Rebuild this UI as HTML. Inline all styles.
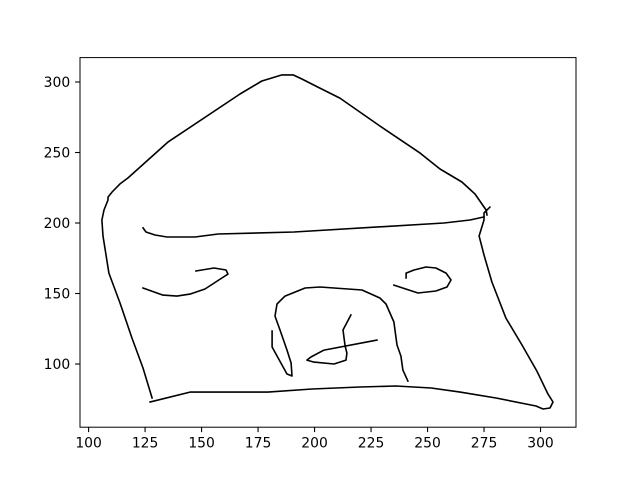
<!DOCTYPE html>
<html><head><meta charset="utf-8">
<style>
html,body{margin:0;padding:0;background:#fff;}
svg{display:block;font-family:"DejaVu Sans","Liberation Sans",sans-serif;}
</style></head>
<body>
<svg id="chart" width="640" height="480" viewBox="0 0 640 480" xmlns="http://www.w3.org/2000/svg">
<rect x="0" y="0" width="640" height="480" fill="#fff"/>
<g id="marks"></g>
<rect x="80" y="57.6" width="496" height="369.6" fill="none" stroke="#000" stroke-width="1"/>
<g id="xaxis"></g>
<g id="yaxis"></g>
</svg>
<script>
const xTicks = [100,125,150,175,200,225,250,275,300];
const yTicks = [100,150,200,250,300];
const outlineX = [128.1,124.1,119.2,113.9,109.0,106.4,105.9,106.8,108.6,108.6,110.4,113.9,117.4,135.1,167.0,176.7,185.6,190.5,194.4,201.5,211.2,228.9,246.7,255.5,265.2,271.0,275.9,276.3];
const outlineY = [75.9,97.2,118.4,143.3,164.5,190.8,202.1,209.2,216.3,218.4,222.0,227.7,231.9,257.4,291.5,300.7,305.0,305.0,302.1,296.4,288.6,268.8,249.6,238.3,229.1,220.6,209.2,205.7];
const jawX = [277.6,275.0,275.0,272.8,275.0,278.5,284.7,291.8,298.4,303.3,305.5,304.2,301.1,298.0,280.3,264.4,251.6,236.0,220.1,198.9,179.4,144.9,127.2];
const jawY = [211.3,207.1,202.1,190.8,177.3,158.2,132.6,113.5,95.0,78.7,73.1,68.8,68.1,70.2,75.9,80.1,83.0,84.4,83.7,82.3,80.1,80.1,73.1];
const bandX = [124.1,125.4,129.4,134.7,147.1,157.3,190.9,257.3,268.8,275.0];
const bandY = [196.5,193.6,191.5,190.1,190.1,192.2,193.6,200.0,202.1,204.3];
const leftEyeX = [124.1,132.9,139.1,144.9,151.5,159.0,161.7,160.8,155.5,147.5];
const leftEyeY = [153.9,148.9,148.2,149.6,153.2,161.0,163.8,166.7,168.1,166.0];
const rightEyeX = [240.5,240.5,244.0,249.3,253.7,258.2,260.4,258.6,253.7,245.8,235.1];
const rightEyeY = [161.0,164.5,166.7,168.8,168.1,164.5,159.6,154.6,151.8,150.4,156.0];
const noseX = [181.2,181.2,185.1,187.8,190.0,189.6,187.8,184.7,182.5,183.4,186.9,195.8,202.4,221.0,228.9,231.6,235.1,236.5,238.2,239.1,241.3];
const noseY = [123.4,112.1,100.7,92.9,91.5,100.7,109.9,124.1,134.0,142.6,148.2,153.9,154.6,152.5,146.8,142.6,129.8,113.5,105.7,95.7,87.9];
const mouthX = [216.1,212.6,213.5,214.3,213.9,208.6,199.7,196.6,198.4,204.2,227.6];
const mouthY = [134.8,124.1,112.8,107.8,102.8,100.0,101.4,102.8,105.0,109.9,117.0];

const L=80,R=576,T=57.6,B=427.2;
const xmin=96.2,xmax=315.7,ymin=55.2,ymax=317.3;
function sx(v){return L+(v-xmin)/(xmax-xmin)*(R-L);}
function sy(v){return B-(v-ymin)/(ymax-ymin)*(B-T);}
const NS="http://www.w3.org/2000/svg";
const marks=document.getElementById('marks');
function stroke(xs,ys,name){
  const p=document.createElementNS(NS,'polyline');
  p.setAttribute('points',xs.map((x,i)=>sx(x).toFixed(1)+','+sy(ys[i]).toFixed(1)).join(' '));
  p.setAttribute('fill','none');p.setAttribute('stroke','#000');p.setAttribute('stroke-width','1.6');
  p.setAttribute('stroke-linejoin','round');p.setAttribute('stroke-linecap','square');
  
  
  marks.appendChild(p);
}
stroke(outlineX,outlineY,'head-outline');
stroke(jawX,jawY,'jaw-outline');
stroke(bandX,bandY,'hat-band');
stroke(leftEyeX,leftEyeY,'left-eye');
stroke(rightEyeX,rightEyeY,'right-eye');
stroke(noseX,noseY,'nose');
stroke(mouthX,mouthY,'mouth');

const xa=document.getElementById('xaxis');
xTicks.forEach(t=>{
  const x=sx(t);
  const l=document.createElementNS(NS,'line');
  l.setAttribute('x1',x);l.setAttribute('x2',x);l.setAttribute('y1',B);l.setAttribute('y2',B+4.9);
  l.setAttribute('stroke','#000');l.setAttribute('stroke-width','1.1');
  
  
  xa.appendChild(l);
  const tx=document.createElementNS(NS,'text');
  tx.setAttribute('x',x);tx.setAttribute('y',B+20.5);tx.setAttribute('text-anchor','middle');tx.setAttribute('font-size','13.9');
  tx.textContent=t;
  
  
  xa.appendChild(tx);
});
const ya=document.getElementById('yaxis');
yTicks.forEach(t=>{
  const y=sy(t);
  const l=document.createElementNS(NS,'line');
  l.setAttribute('x1',L-4.9);l.setAttribute('x2',L);l.setAttribute('y1',y);l.setAttribute('y2',y);
  l.setAttribute('stroke','#000');l.setAttribute('stroke-width','1.1');
  
  
  ya.appendChild(l);
  const tx=document.createElementNS(NS,'text');
  tx.setAttribute('x',L-9.8);tx.setAttribute('y',y+5);tx.setAttribute('text-anchor','end');tx.setAttribute('font-size','13.9');
  tx.textContent=t;
  
  
  ya.appendChild(tx);
});
</script>
</body></html>
